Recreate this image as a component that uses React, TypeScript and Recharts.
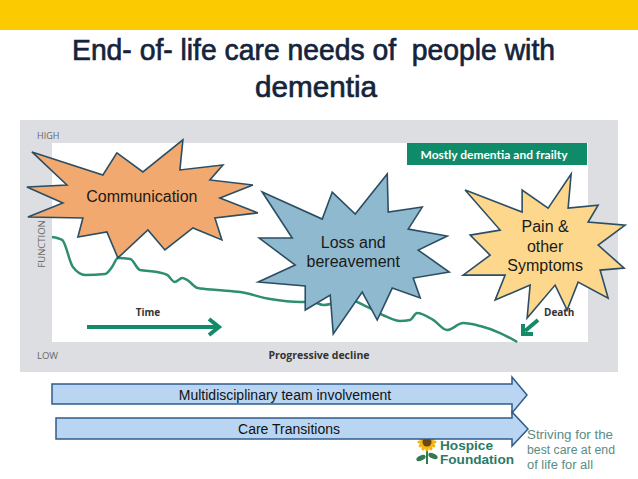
import React from "react";
import { LineChart, Line, XAxis, YAxis, ReferenceDot } from "recharts";

// progression along the illness trajectory (0 = diagnosis, 100 = end of axis)
const timePoints = [0, 1.9, 3.9, 6.2, 9.9, 11.2, 12.3, 14.6, 16.4, 19.6, 21.5, 22.9, 24.3, 25.2, 27.2, 30.8, 35.1, 40.7, 46.3, 48.7, 50.6, 55.6, 58.8, 62.5, 64.9, 66.8, 68.1, 71.1, 73.7, 76.7, 79.9, 83.6, 86.8];
// level of function (0 = LOW, 100 = HIGH)
const functionValues = [52.8, 51.3, 37.7, 33.7, 34.2, 37.7, 42.2, 41.7, 36.2, 35.2, 33.7, 30.2, 32.2, 31.2, 27.1, 26.1, 25.1, 21.6, 20.1, 20.1, 18.6, 21.1, 17.6, 12.6, 10.6, 11.1, 14.6, 11.1, 6.0, 9.5, 8.0, 4.5, 0];

// callout bursts (needs) anchored in data space
const calloutLabels = [["Communication"], ["Loss and", "bereavement"], ["Pain &", "other", "Symptoms"]];
const calloutTime = [16.4, 56.2, 92.0];
const calloutLevel = [73.4, 45.7, 48.7];

const bandLabels = ["Multidisciplinary team involvement", "Care Transitions"];

const data = timePoints.map((t, i) => ({ t, f: functionValues[i] }));

// burst outlines (offsets from anchor)
const burstShapes: number[][][] = [
  [[-108, -44], [-37, -21], [-23, -43], [3, -24], [43, -56], [40, -26], [83, -31], [70, -16], [113, -11], [80, 2], [118, 17], [75, 22], [82, 44], [53, 32], [25, 54], [8, 34], [-22, 62], [-33, 36], [-62, 41], [-57, 22], [-112, 21], [-77, 7], [-113, -9], [-73, -11]],
  [[-91, -59], [-31, -32], [-21, -59], [2, -37], [34, -77], [35, -39], [69, -44], [55, -22], [94, -15], [65, -1], [96, 21], [60, 27], [67, 47], [39, 37], [24, 69], [9, 41], [-20, 83], [-23, 44], [-48, 59], [-48, 35], [-95, 31], [-58, 14], [-94, -13], [-61, -13]],
  [[-80, -55], [-23, -33], [-23, -55], [3, -37], [26, -71], [23, -37], [53, -40], [43, -23], [80, -20], [53, 0], [79, 23], [55, 25], [63, 53], [33, 37], [22, 65], [10, 40], [-18, 73], [-15, 40], [-50, 55], [-40, 30], [-82, 30], [-55, 10], [-75, -10], [-45, -15]],
];
const burstFills = ["#f1a96f", "#8fb9cf", "#fdd88c"];

const Burst = (props: any) => {
  const { cx, cy, idx } = props;
  if (cx == null || cy == null) return null;
  const pts = burstShapes[idx].map(([dx, dy]) => `${cx + dx},${cy + dy}`).join(" ");
  const lines = calloutLabels[idx];
  return (
    <g>
      <polygon points={pts} fill={burstFills[idx]} stroke="#2c4e64" strokeWidth={1.6} strokeLinejoin="miter" />
      {lines.map((l, i) => (
        <text
          key={i}
          x={cx + (idx === 0 ? 2 : 0)}
          y={cy + (i - (lines.length - 1) / 2) * 19.5 + 1}
          textAnchor="middle"
          dominantBaseline="central"
          fontFamily="'Liberation Sans', Arial, sans-serif"
          fontSize={16}
          fill="#1a1a1a"
        >
          {l}
        </text>
      ))}
    </g>
  );
};

const sans = "'Open Sans', 'Liberation Sans', Arial, sans-serif";
const arial = "'Liberation Sans', Arial, sans-serif";

export default function App() {
  return (
    <div style={{ position: "absolute", left: 0, top: 0, width: 638, height: 479, background: "#fff", overflow: "hidden" }}>
      <svg width={638} height={479} style={{ position: "absolute", left: 0, top: 0 }}>
        <rect x={0} y={0} width={638} height={30} fill="#fcca00" />
        <text x={72} y={60} textLength={483} lengthAdjust="spacingAndGlyphs" fontFamily={arial} fontSize={30} fill="#14243c" stroke="#14243c" strokeWidth={0.7} style={{ whiteSpace: "pre" }}>
          End- of- life care needs of  people with
        </text>
        <text x={255} y={97} textLength={122} lengthAdjust="spacingAndGlyphs" fontFamily={arial} fontSize={30} fill="#14243c" stroke="#14243c" strokeWidth={0.7}>
          dementia
        </text>
        <rect x={20} y={120} width={598} height={252} fill="#dcdee1" />
        <rect x={52} y={143} width={536} height={199} fill="#ffffff" />
        <rect x={407} y={143} width={180} height={22} fill="#0f8b69" />
        <text x={494} y={158.5} textAnchor="middle" fontFamily="Lato, 'Open Sans', sans-serif" fontWeight="bold" fontSize={12} fill="#fff">
          Mostly dementia and frailty
        </text>
        <text x={37} y={139} fontFamily={sans} fontSize={9} fill="#666">HIGH</text>
        <text x={37} y={359} fontFamily={sans} fontSize={9.5} fill="#666">LOW</text>
        <text x={45} y={244} transform="rotate(-90 45 244)" textAnchor="middle" fontFamily={sans} fontSize={9.5} fill="#666">FUNCTION</text>
        <text x={319} y={359} textAnchor="middle" fontFamily={sans} fontWeight="bold" fontSize={10.5} fill="#333">Progressive decline</text>
        <text x={148} y={316} textAnchor="middle" fontFamily={sans} fontWeight="bold" fontSize={10} fill="#333">Time</text>
        <line x1={87} y1={327} x2={218} y2={327} stroke="#138a68" strokeWidth={4} />
        <polyline points="209,319 219,327 209,335" fill="none" stroke="#138a68" strokeWidth={4} />
        <text x={544} y={316} fontFamily={sans} fontWeight="bold" fontSize={10} fill="#333">Death</text>
        <line x1={538} y1={320} x2={525} y2={331} stroke="#138a68" strokeWidth={4} />
        <polyline points="523,324 523,334 533,334" fill="none" stroke="#138a68" strokeWidth={4} />
      </svg>

      <div style={{ position: "absolute", left: 0, top: 0 }}>
        <LineChart width={638} height={479} data={data} margin={{ top: 143, right: 50, bottom: 137, left: 52 }}>
          <XAxis dataKey="t" type="number" domain={[0, 100]} height={0} tick={false} tickLine={false} axisLine={{ stroke: "#555", strokeWidth: 1.5 }} />
          <YAxis type="number" domain={[0, 100]} width={0} tick={false} tickLine={false} axisLine={{ stroke: "#555", strokeWidth: 1.5 }} />
          <Line type="monotone" dataKey="f" stroke="#2e8e70" strokeWidth={2.5} dot={false} isAnimationActive={false} />
          {calloutLabels.map((_, i) => (
            <ReferenceDot
              key={i}
              x={calloutTime[i]}
              y={calloutLevel[i]}
              r={1}
              ifOverflow="visible"
              shape={(p: any) => <Burst cx={p.cx} cy={p.cy} idx={i} />}
            />
          ))}
        </LineChart>
      </div>

      <svg width={638} height={479} style={{ position: "absolute", left: 0, top: 0, pointerEvents: "none" }}>
        {/* logo */}
        <g>
          <line x1={427} y1={448} x2={427} y2={464} stroke="#2f7a4e" strokeWidth={2} />
          <ellipse cx={421} cy={458} rx={5} ry={2.5} fill="#2f7a4e" transform="rotate(-25 421 458)" />
          <ellipse cx={433} cy={456} rx={5} ry={2.5} fill="#2f7a4e" transform="rotate(25 433 456)" />
          {[0, 30, 60, 90, 120, 150, 180, 210, 240, 270, 300, 330].map((a) => (
            <ellipse key={a} cx={427 + 6 * Math.cos((a * Math.PI) / 180)} cy={442 + 6 * Math.sin((a * Math.PI) / 180)} rx={3.5} ry={1.8} fill="#f2b50f" transform={`rotate(${a} ${427 + 6 * Math.cos((a * Math.PI) / 180)} ${442 + 6 * Math.sin((a * Math.PI) / 180)})`} />
          ))}
          <circle cx={427} cy={442} r={4.5} fill="#6b4418" />
          <text x={440} y={450} textLength={53} lengthAdjust="spacingAndGlyphs" fontFamily={arial} fontWeight="bold" fontSize={13} fill="#2a7a66">Hospice</text>
          <text x={440} y={464} textLength={74} lengthAdjust="spacingAndGlyphs" fontFamily={arial} fontWeight="bold" fontSize={13} fill="#2a7a66">Foundation</text>
          <text x={527} y={439} textLength={86} lengthAdjust="spacingAndGlyphs" fontFamily={arial} fontSize={12.5} fill="#5b8c84">Striving for the</text>
          <text x={527} y={454} textLength={88} lengthAdjust="spacingAndGlyphs" fontFamily={arial} fontSize={12.5} fill="#5b8c84">best care at end</text>
          <text x={527} y={469} textLength={66} lengthAdjust="spacingAndGlyphs" fontFamily={arial} fontSize={12.5} fill="#5b8c84">of life for all</text>
        </g>
        <polygon points="52,384 512,384 512,377 527,395 512,413 512,404 52,404" fill="#b9d5f2" stroke="#2e5c8a" strokeWidth={1.5} />
        <text x={285} y={395} textAnchor="middle" dominantBaseline="central" fontFamily={arial} fontSize={14} fill="#111">{bandLabels[0]}</text>
        <polygon points="56,418 512,418 512,412 528,429 512,446 512,439 56,439" fill="#b9d5f2" stroke="#2e5c8a" strokeWidth={1.5} />
        <text x={289} y={429} textAnchor="middle" dominantBaseline="central" fontFamily={arial} fontSize={14} fill="#111">{bandLabels[1]}</text>
      </svg>
    </div>
  );
}
